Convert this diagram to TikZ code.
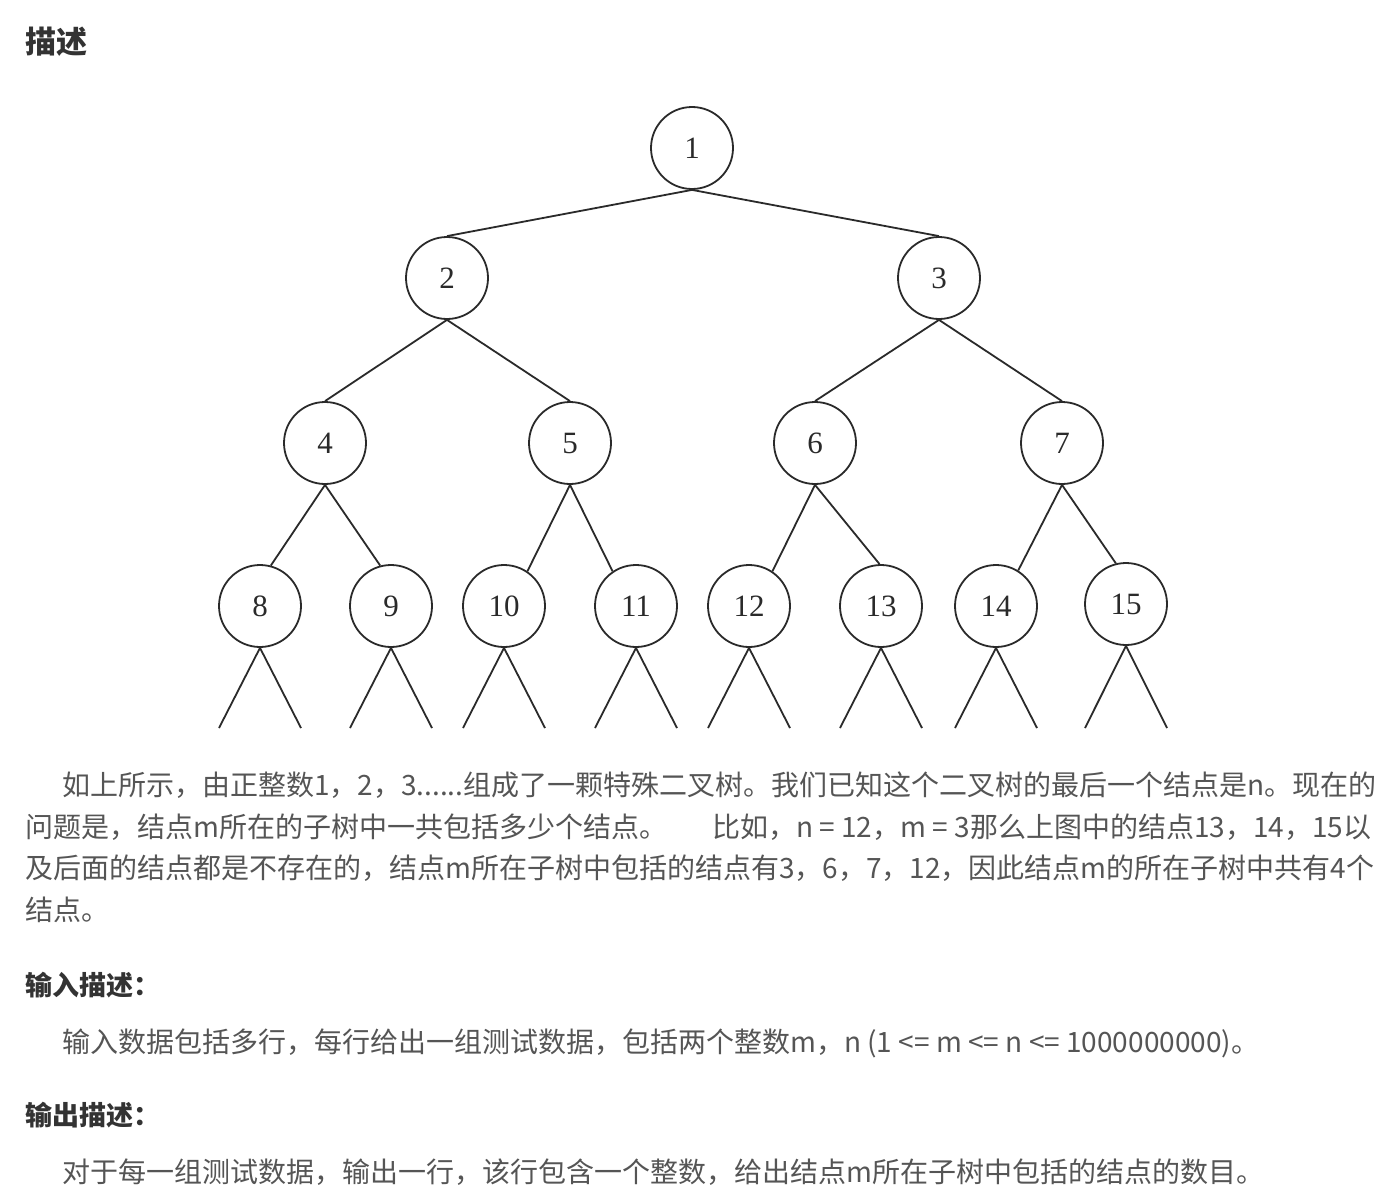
\documentclass[tikz,border=0pt]{standalone}
\usepackage{fontspec}
\setmainfont{Liberation Serif}
\newfontfamily\cjk{Noto Sans CJK SC}
\definecolor{treeline}{HTML}{2A2A2A}
\definecolor{bodygray}{HTML}{555555}
\definecolor{headgray}{HTML}{333333}
\tikzset{
  tn/.style={circle, draw=treeline, line width=1.8pt, minimum size=82pt, inner sep=0pt,
             font=\fontsize{31}{31}\selectfont, text=treeline},
  tedge/.style={draw=treeline, line width=1.8pt},
  bodytxt/.style={anchor=west, inner sep=0pt, font=\cjk\fontsize{28}{34}\selectfont, text=bodygray},
  headtxt/.style={anchor=west, inner sep=0pt, font=\cjk\bfseries\fontsize{27}{34}\selectfont, text=headgray},
}
\begin{document}
\begin{tikzpicture}[x=1pt,y=-1pt]
\useasboundingbox[fill=white] (0,0) rectangle (1400,1196);

% title
\node[headtxt, font=\cjk\bfseries\fontsize{31}{36}\selectfont] (title) at (25,42) {描述};

% tree nodes
\node[tn] (n1) at (692,148) {1};
\node[tn] (n2) at (447,278) {2};
\node[tn] (n3) at (939,278) {3};
\node[tn] (n4) at (325,443) {4};
\node[tn] (n5) at (570,443) {5};
\node[tn] (n6) at (815,443) {6};
\node[tn] (n7) at (1062,443) {7};
\node[tn] (n8) at (260,606) {8};
\node[tn] (n9) at (391,606) {9};
\node[tn] (n10) at (504,606) {10};
\node[tn] (n11) at (636,606) {11};
\node[tn] (n12) at (749,606) {12};
\node[tn] (n13) at (881,606) {13};
\node[tn] (n14) at (996,606) {14};
\node[tn] (n15) at (1126,604) {15};

% edges
\draw[tedge] (n1.south) -- (n2.north);
\draw[tedge] (n1.south) -- (n3.north);
\draw[tedge] (n2.south) -- (n4.north);
\draw[tedge] (n2.south) -- (n5.north);
\draw[tedge] (n3.south) -- (n6.north);
\draw[tedge] (n3.south) -- (n7.north);
\draw[tedge] (n4.south) -- (n8.75);
\draw[tedge] (n4.south) -- (n9.105);
\draw[tedge] (n5.south) -- (n10.56);
\draw[tedge] (n5.south) -- (n11.124);
\draw[tedge] (n6.south) -- (n12.56);
\draw[tedge] (n6.south) -- (n13.92);
\draw[tedge] (n7.south) -- (n14.58);
\draw[tedge] (n7.south) -- (n15.104);

% dangling leaf lines
\foreach \n/\c in {8/260,9/391,10/504,11/636,12/749,13/881,14/996,15/1126}{
  \coordinate (l\n) at (\c-41,728);
  \coordinate (r\n) at (\c+41,728);
  \draw[tedge] (n\n.south) -- (l\n);
  \draw[tedge] (n\n.south) -- (r\n);
}

% description text
\node[bodytxt] (p1) at (62,785) {如上所示，由正整数1，2，3......组成了一颗特殊二叉树。我们已知这个二叉树的最后一个结点是n。现在的};
\node[bodytxt] (p2a) at (25,827) {问题是，结点m所在的子树中一共包括多少个结点。};
\node[bodytxt] (p2b) at (712,827) {比如，n = 12，m = 3那么上图中的结点13，14，15以};
\node[bodytxt] (p3) at (25,868) {及后面的结点都是不存在的，结点m所在子树中包括的结点有3，6，7，12，因此结点m的所在子树中共有4个};
\node[bodytxt] (p4) at (25,910) {结点。};

% input
\node[headtxt] (inh) at (25,985) {输入描述：};
\node[bodytxt] (inp) at (62,1043) {输入数据包括多行，每行给出一组测试数据，包括两个整数m，n (1 <= m <= n <= 1000000000)。};

% output
\node[headtxt] (outh) at (25,1115) {输出描述：};
\node[bodytxt] (outp) at (62,1172) {对于每一组测试数据，输出一行，该行包含一个整数，给出结点m所在子树中包括的结点的数目。};
\end{tikzpicture}
\end{document}
